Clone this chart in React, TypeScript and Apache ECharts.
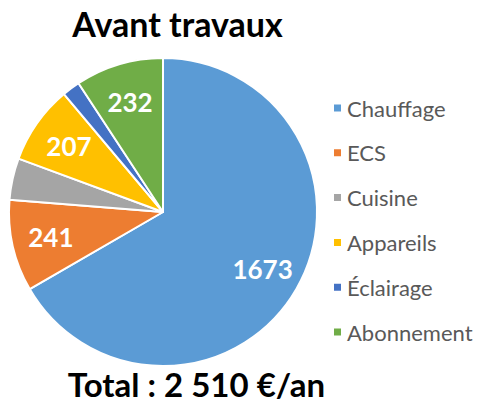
import React, { useEffect, useRef } from "react";
import * as echarts from "echarts";

const categories = ["Chauffage", "ECS", "Cuisine", "Appareils", "Éclairage", "Abonnement"];
const values = [1673, 241, 110, 207, 47, 232];
const showLabel = [true, true, false, true, false, true];
const colors = ["#5B9BD5", "#ED7D31", "#A5A5A5", "#FFC000", "#4472C4", "#70AD47"];
const titleText = "Avant travaux";
const totalText = "Total : 2 510 €/an";

const FONT = "Lato";

export default function App() {
  const ref = useRef<HTMLDivElement>(null);
  useEffect(() => {
    if (!ref.current) return;
    const chart = echarts.init(ref.current, null, { renderer: "svg" });
    const center = [163, 212];
    const R = 154;
    chart.setOption({
      animation: false,
      backgroundColor: "#ffffff",
      legend: {
        orient: "vertical",
        left: 327,
        top: 92,
        itemWidth: 9,
        itemHeight: 9,
        itemGap: 22.8,
        icon: "rect",
        selectedMode: false,
        textStyle: {
          fontFamily: FONT,
          fontSize: 22,
          color: "#595959",
          lineHeight: 22,
        },
        data: categories.map((c, i) => ({ name: c, itemStyle: { color: colors[i] } })),
      },
      graphic: [
        {
          type: "text",
          x: 177.5,
          y: 23,
          style: {
            text: titleText,
            fill: "#000",
            font: `bold 34px ${FONT}`,
            lineHeight: 30,
            textAlign: "center",
            textVerticalAlign: "middle",
          },
        },
        {
          type: "text",
          x: 196.5,
          y: 384,
          style: {
            text: totalText,
            fill: "#000",
            font: `bold 33px ${FONT}`,
            lineHeight: 28,
            textAlign: "center",
            textVerticalAlign: "middle",
          },
        },
      ],
      series: [
        {
          type: "pie",
          center,
          radius: R,
          startAngle: 90,
          clockwise: true,
          silent: true,
          label: { show: false },
          labelLine: { show: false },
          emphasis: { disabled: true },
          itemStyle: { borderColor: "#ffffff", borderWidth: 2 },
          data: categories.map((c, i) => ({
            name: c,
            value: values[i],
            itemStyle: { color: colors[i] },
          })),
        },
        {
          type: "pie",
          center,
          radius: [70, R],
          startAngle: 90,
          clockwise: true,
          silent: true,
          labelLine: { show: false },
          emphasis: { disabled: true },
          label: {
            show: true,
            position: "inside",
            color: "#ffffff",
            fontFamily: FONT,
            fontWeight: "bold",
            fontSize: 26,
            formatter: "{c}",
          },
          itemStyle: { color: "transparent", borderWidth: 0 },
          data: categories.map((c, i) => ({
            name: c,
            value: values[i],
            itemStyle: { color: "transparent" },
            label: { show: showLabel[i] },
          })),
        },
      ],
    });
    return () => chart.dispose();
  }, []);
  return (
    <div
      ref={ref}
      style={{ position: "absolute", left: 0, top: 0, width: 477, height: 403 }}
    />
  );
}
